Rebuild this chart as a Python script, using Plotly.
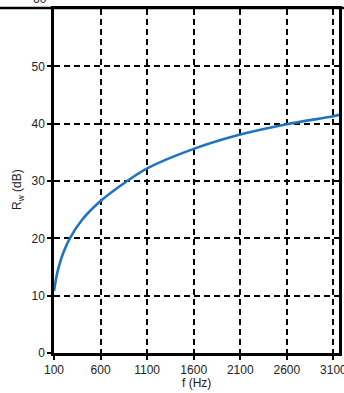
import plotly.graph_objects as go

# Data
freq_hz = [100, 130, 165, 200, 270, 400, 600, 886, 1100, 1600, 2100, 2600, 3100, 3180]
rw_db = [10.8, 13.6, 15.8, 17.5, 20.0, 23.2, 26.5, 30.0, 32.2, 35.6, 38.1, 39.9, 41.3, 41.6]

x_ticks = [100, 600, 1100, 1600, 2100, 2600, 3100]
y_ticks = [0, 10, 20, 30, 40, 50]

FONT = "Liberation Sans, Arial, sans-serif"

fig = go.Figure()
fig.add_trace(go.Scatter(
    x=freq_hz, y=rw_db, mode="lines",
    line=dict(color="#1f74bd", width=2.6, shape="spline", smoothing=0.8),
    hoverinfo="skip", showlegend=False, cliponaxis=True,
))

fig.update_layout(
    width=344, height=393,
    margin=dict(l=54, r=5, t=9, b=40),
    paper_bgcolor="white", plot_bgcolor="white",
    font=dict(family=FONT, size=12, color="#222"),
    xaxis=dict(
        range=[100, 3160], tickvals=x_ticks, ticktext=[str(v) for v in x_ticks],
        showgrid=True, gridcolor="black", gridwidth=1.7, griddash="6px,4px",
        showline=True, linecolor="black", linewidth=2.5, mirror=True,
        ticks="outside", ticklen=4, tickwidth=1.5, tickcolor="black",
        zeroline=False, automargin=False, tickfont=dict(size=12),
        ticklabeloverflow="allow",
    ),
    yaxis=dict(
        range=[0, 60], tickvals=y_ticks, ticktext=[str(v) for v in y_ticks],
        showgrid=True, gridcolor="black", gridwidth=1.7, griddash="6px,4px",
        showline=True, linecolor="black", linewidth=2.5, mirror=True,
        ticks="outside", ticklen=4, tickwidth=1.5, tickcolor="black",
        zeroline=False, automargin=False, tickfont=dict(size=12),
        ticklabeloverflow="allow",
    ),
)

# axis titles placed as in the reference
fig.add_annotation(
    text="f (Hz)", xref="paper", yref="paper", x=0.5, y=0, xanchor="center", yanchor="middle",
    yshift=-30, showarrow=False, font=dict(size=12, color="#222", family=FONT),
)
fig.add_annotation(
    text="R<sub>w</sub> (dB)", xref="paper", yref="paper", x=0, y=(353 - 190) / 344,
    xanchor="center", yanchor="middle", xshift=-36, textangle=-90,
    showarrow=False, font=dict(size=12, color="#222", family=FONT),
)
# partially cropped "60" label at the top edge, as in the reference
fig.add_annotation(
    text="60", xref="paper", yref="paper", x=0, y=1, xanchor="right", yanchor="bottom",
    xshift=-5, yshift=1, showarrow=False, font=dict(size=12, color="#222", family=FONT),
)
# image top border line running across the full width
fig.add_shape(type="line", xref="paper", yref="paper", x0=-0.2, x1=1.02, y0=1.003, y1=1.003,
              line=dict(color="black", width=2.5), layer="above")

fig.write_html(
    "out.html",
    config={"displayModeBar": False},
    post_script="document.body.style.margin='0';document.body.style.overflow='hidden';",
)
